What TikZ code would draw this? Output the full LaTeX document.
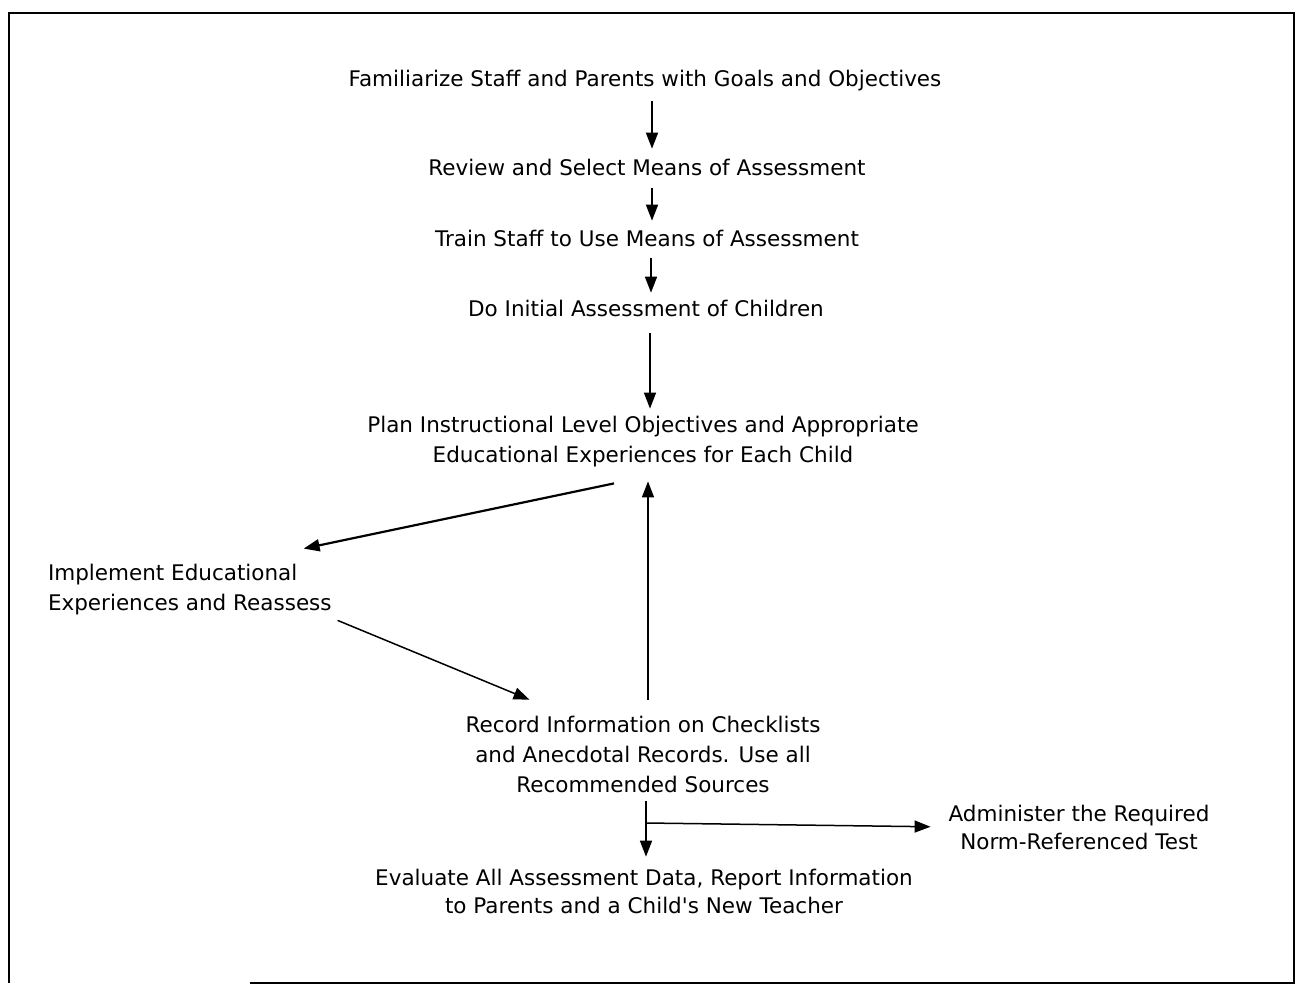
\documentclass[tikz,border=0pt]{standalone}
\usepackage{fontspec}
\setmainfont{DejaVu Sans}
\usetikzlibrary{arrows.meta}
\begin{document}
\begin{tikzpicture}[x=1bp,y=-1bp,
  lbl/.style={inner sep=0pt, outer sep=0pt, align=center, font=\fontsize{21.5bp}{30bp}\selectfont},
  lbltight/.style={lbl, font=\fontsize{21.5bp}{28bp}\selectfont},
  arr/.style={line width=1.5bp, -{Triangle[length=16bp,width=12bp]}},
  frame/.style={line width=2.8bp},
]
\useasboundingbox (0,0) rectangle (1298,989);
\draw[frame] (250,983) -- (1294,983) -- (1294,13) -- (9,13) -- (9,983);

\node[lbl] (n1) at (645,81) {Familiarize Staff and Parents with Goals and Objectives};
\node[lbl] (n2) at (647,167) {Review and Select Means of Assessment};
\node[lbl] (n3) at (647,238) {Train Staff to Use Means of Assessment};
\node[lbl] (n4) at (646,308) {Do Initial Assessment of Children};
\node[lbl] (n5) at (643,442) {Plan Instructional Level Objectives and Appropriate\\Educational Experiences for Each Child};
\node[lbl, align=left, anchor=west] (n6) at (48,590) {Implement Educational\\Experiences and Reassess};
\node[lbl] (n7) at (643,754) {Record Information on Checklists\\and Anecdotal Records. Use all\\Recommended Sources};
\node[lbltight] (n8) at (1079,827) {Administer the Required\\Norm-Referenced Test};
\node[lbltight] (n9) at (644,891) {Evaluate All Assessment Data, Report Information\\to Parents and a Child\textquotesingle s New Teacher};

\coordinate (xa) at (652,0);
\coordinate (xb) at (651,0);
\coordinate (xc) at (650,0);
\coordinate (xd) at (648,0);
\coordinate (xe) at (646,0);
\coordinate (br) at (646,823);

\draw[arr, shorten <=10bp, shorten >=10bp] (n1.south -| xa) -- (n2.north -| xa);
\draw[arr, shorten <=13bp, shorten >=9bp] (n2.south -| xa) -- (n3.north -| xa);
\draw[arr, shorten <=12bp, shorten >=7bp] (n3.south -| xb) -- (n4.north -| xb);
\draw[arr, shorten <=17bp, shorten >=8bp] (n4.south -| xc) -- (n5.north -| xc);
\draw[arr, line width=2.2bp] ([xshift=-29bp,yshift=-16bp]n5.south) -- ([xshift=-28bp,yshift=16bp]n6.north east);
\draw[arr] ([xshift=6bp,yshift=-5bp]n6.south east) -- ([xshift=64bp,yshift=16bp]n7.north west);
\draw[arr, shorten <=16bp, shorten >=14bp] (n7.north -| xd) -- (n5.south -| xd);
\draw[arr, shorten <=9bp, shorten >=12bp] (n7.south -| xe) -- (n9.north -| xe);
\draw[arr, shorten >=18bp] (br) -- (n8.west);
\end{tikzpicture}
\end{document}
